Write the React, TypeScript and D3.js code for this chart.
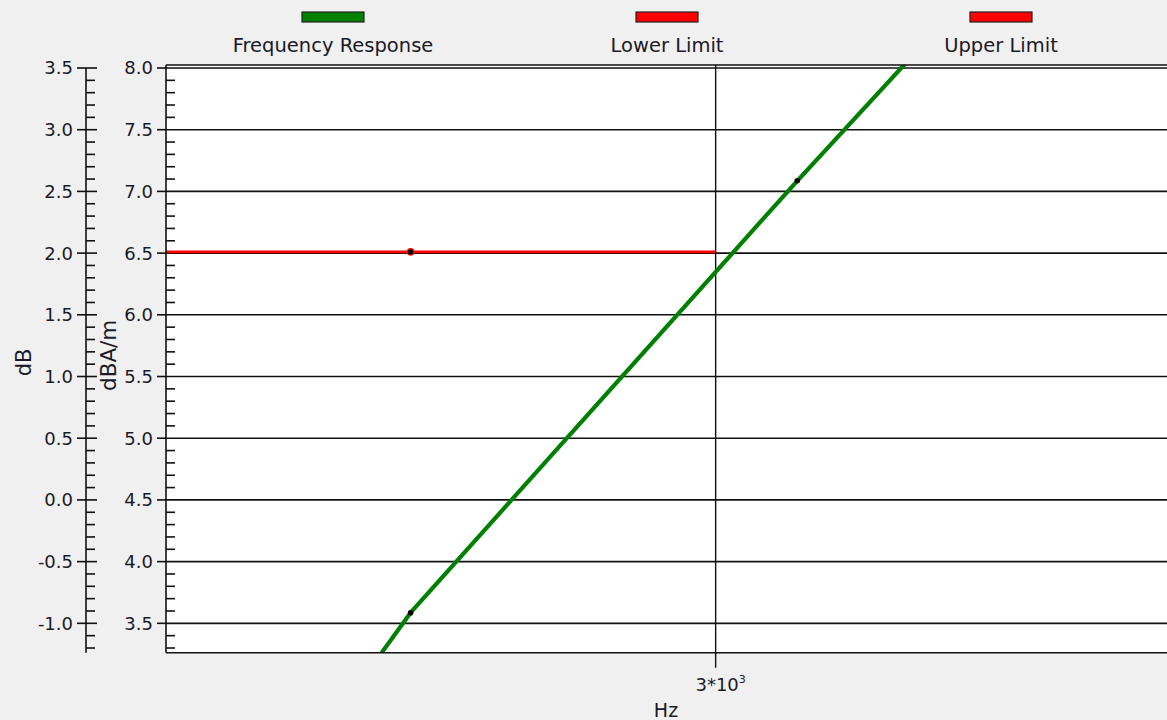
import React from "react";
import * as d3 from "d3";

// ---- Data ----
const responseFreqs = [2000, 2500, 3150, 4000];
const responseDBA = [-0.6, 3.586, 7.086, 10.6];
const lowerLimitFreqs = [2000, 2500, 3000];
const lowerLimitDBA = [6.51, 6.51, 6.51];
const upperLimitFreqs: number[] = [];
const upperLimitDBA: number[] = [];
const markerFreqs = [2500, 3150];
const xTickValues = [3000];
const dbaTicks = [8.0, 7.5, 7.0, 6.5, 6.0, 5.5, 5.0, 4.5, 4.0, 3.5];
const dbTicks = [3.5, 3.0, 2.5, 2.0, 1.5, 1.0, 0.5, 0.0, -0.5, -1.0];
const seriesNames = ["Frequency Response", "Lower Limit", "Upper Limit"];
const seriesColors = ["#008000", "#ff0000", "#ff0000"];
const dbOffset = 4.5; // dB = dBA/m - 4.5

// ---- Layout ----
const W = 1167;
const H = 720;
const plotLeft = 166;
const plotTop = 65;
const plotBottom = 652.7;
const yTopPx = 68;
const pxPerLn = 1673.2;
const xMin = 2160;
const xMax = 4000;
const yMinDBA = 3.262;
const yMaxDBA = 8.0;
const leftAxisX = 86;
const FONT = "DejaVu Sans, Verdana, sans-serif";
const TEXT = "#1a1a28";

export default function App() {
  const x = d3
    .scaleLog()
    .domain([xMin, xMax])
    .range([plotLeft, plotLeft + pxPerLn * Math.log(xMax / xMin)]);
  const y = d3.scaleLinear().domain([yMinDBA, yMaxDBA]).range([plotBottom, yTopPx]);
  const yDb = d3
    .scaleLinear()
    .domain([yMinDBA - dbOffset, yMaxDBA - dbOffset])
    .range([plotBottom, yTopPx]);

  const line = d3
    .line<[number, number]>()
    .x((d) => x(d[0]))
    .y((d) => y(d[1]));

  const respPts: [number, number][] = responseFreqs.map((f, i) => [f, responseDBA[i]]);
  const lowPts: [number, number][] = lowerLimitFreqs.map((f, i) => [f, lowerLimitDBA[i]]);
  const upPts: [number, number][] = upperLimitFreqs.map((f, i) => [f, upperLimitDBA[i]]);

  const minorDBA = d3
    .range(Math.round(yMinDBA * 10), Math.round(yMaxDBA * 10) + 1)
    .map((v) => v / 10)
    .filter((v) => v >= yMinDBA - 1e-9 && Math.abs(v * 2 - Math.round(v * 2)) > 1e-6);
  const minorDB = minorDBA.map((v) => v - dbOffset);

  const fmt = (v: number) => (Math.abs(v) < 1e-9 ? "0.0" : v.toFixed(1));

  const legendCenters = [333, 667, 1001];

  return (
    <svg
      width={W}
      height={H}
      style={{ position: "absolute", left: 0, top: 0, display: "block" }}
      fontFamily={FONT}
    >
      <defs>
        <clipPath id="plotClip">
          <rect x={plotLeft} y={plotTop} width={W - plotLeft + 10} height={plotBottom - plotTop} />
        </clipPath>
      </defs>
      <rect x={0} y={0} width={W} height={H} fill="#f0f0f0" />
      <rect x={plotLeft} y={plotTop} width={W - plotLeft + 10} height={plotBottom - plotTop} fill="#ffffff" />

      {/* horizontal gridlines */}
      {dbaTicks.map((v) => (
        <line key={"g" + v} x1={plotLeft} x2={W + 5} y1={y(v)} y2={y(v)} stroke="#111" strokeWidth={1.6} />
      ))}
      {/* vertical gridline + tick */}
      {xTickValues.map((f) => (
        <line key={"vx" + f} x1={x(f)} x2={x(f)} y1={plotTop} y2={plotBottom + 15} stroke="#111" strokeWidth={1.4} />
      ))}

      {/* series */}
      <g clipPath="url(#plotClip)">
        <path d={line(lowPts) || ""} fill="none" stroke={seriesColors[1]} strokeWidth={2.6} />
        {upPts.length > 0 && <path d={line(upPts) || ""} fill="none" stroke={seriesColors[2]} strokeWidth={2.6} />}
        <path d={line(respPts) || ""} fill="none" stroke={seriesColors[0]} strokeWidth={4.2} strokeLinejoin="round" />
        {lowPts
          .filter((p) => markerFreqs.includes(p[0]))
          .map((p) => (
            <circle key={"lm" + p[0]} cx={x(p[0])} cy={y(p[1])} r={3.2} fill="#000" stroke={seriesColors[1]} strokeWidth={1.2} />
          ))}
        {respPts
          .filter((p) => markerFreqs.includes(p[0]))
          .map((p) => (
            <circle key={"rm" + p[0]} cx={x(p[0])} cy={y(p[1])} r={2.8} fill="#000" />
          ))}
      </g>

      {/* frame */}
      <line x1={plotLeft} x2={W + 5} y1={plotTop} y2={plotTop} stroke="#111" strokeWidth={1.6} />
      <line x1={plotLeft} x2={W + 5} y1={plotBottom} y2={plotBottom} stroke="#111" strokeWidth={1.6} />
      <line x1={plotLeft} x2={plotLeft} y1={plotTop} y2={plotBottom} stroke="#111" strokeWidth={1.6} />

      {/* right (dBA/m) axis ticks */}
      {dbaTicks.map((v) => (
        <g key={"ra" + v}>
          <line x1={plotLeft - 9} x2={plotLeft} y1={y(v)} y2={y(v)} stroke="#111" strokeWidth={1.6} />
          <text x={plotLeft - 13} y={y(v)} dy="0.36em" textAnchor="end" fontSize={18} fill={TEXT}>
            {fmt(v)}
          </text>
        </g>
      ))}
      {minorDBA.map((v) => (
        <line key={"rm" + v} x1={plotLeft} x2={plotLeft + 9} y1={y(v)} y2={y(v)} stroke="#111" strokeWidth={1.6} />
      ))}

      {/* left (dB) axis */}
      <line x1={leftAxisX} x2={leftAxisX} y1={yDb(dbTicks[0])} y2={plotBottom} stroke="#111" strokeWidth={1.6} />
      {dbTicks.map((v) => (
        <g key={"la" + v}>
          <line x1={leftAxisX - 9} x2={leftAxisX + 11} y1={yDb(v)} y2={yDb(v)} stroke="#111" strokeWidth={1.6} />
          <text x={leftAxisX - 13} y={yDb(v)} dy="0.36em" textAnchor="end" fontSize={18} fill={TEXT}>
            {fmt(v)}
          </text>
        </g>
      ))}
      {minorDB.map((v) => (
        <line key={"lm" + v} x1={leftAxisX} x2={leftAxisX + 9} y1={yDb(v)} y2={yDb(v)} stroke="#111" strokeWidth={1.6} />
      ))}

      {/* axis titles */}
      <text
        transform={`translate(31, ${(yTopPx + plotBottom) / 2 + 2}) rotate(-90)`}
        textAnchor="middle"
        fontSize={21}
        fill={TEXT}
      >
        dB
      </text>
      <text
        transform={`translate(116, ${(yTopPx + plotBottom) / 2 - 5}) rotate(-90)`}
        textAnchor="middle"
        fontSize={21.5}
        fill={TEXT}
      >
        dBA/m
      </text>

      {/* x tick label */}
      {xTickValues.map((f) => {
        const exp = Math.floor(Math.log10(f));
        const mant = f / Math.pow(10, exp);
        return (
          <text key={"xt" + f} x={x(f) + 5} y={691} textAnchor="middle" fontSize={18} fill={TEXT}>
            {`${mant}*10`}
            <tspan fontSize={11} dy={-8}>
              {exp}
            </tspan>
          </text>
        );
      })}
      <text x={666} y={717} textAnchor="middle" fontSize={19} fill={TEXT}>
        Hz
      </text>

      {/* legend */}
      {seriesNames.map((name, i) => (
        <g key={"lg" + name}>
          <rect
            x={legendCenters[i] - 31}
            y={12}
            width={62}
            height={10}
            fill={seriesColors[i]}
            stroke="#222"
            strokeWidth={1.2}
          />
          <text x={legendCenters[i]} y={52} textAnchor="middle" fontSize={19.5} fill={TEXT}>
            {name}
          </text>
        </g>
      ))}
    </svg>
  );
}
